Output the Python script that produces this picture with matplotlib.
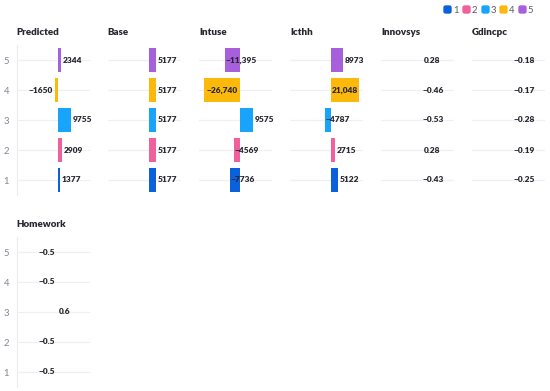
import matplotlib
matplotlib.use("Agg")
import matplotlib.pyplot as plt
from matplotlib.lines import Line2D
from matplotlib.patches import FancyBboxPatch

# ---- data ------------------------------------------------------------------
categories = [1, 2, 3, 4, 5]
predicted = [1377, 2909, 9755, -1650, 2344]
base = [5177, 5177, 5177, 5177, 5177]
intuse = [-7736, -4569, 9575, -26740, -11395]
icthh = [5122, 2715, -4787, 21048, 8973]
innovsys = [-0.43, 0.28, -0.53, -0.46, 0.28]
gdincpc = [-0.25, -0.19, -0.28, -0.17, -0.18]
homework = [-0.5, -0.5, 0.6, -0.5, -0.5]

panel_names = ["Predicted", "Base", "Intuse", "Icthh", "Innovsys", "Gdincpc", "Homework"]
panel_values = [predicted, base, intuse, icthh, innovsys, gdincpc, homework]

colors = ["#0b60dc", "#f0609a", "#17a4fa", "#fdb80c", "#a75fdb"]

# ---- layout -----------------------------------------------------------------
W, H = 550, 391
XMIN, XMAX = -30700, 24200
COL_LEFT, COL_STEP, COL_W = 16.7, 91.1, 73.3
ROW_TOP, ROW_STEP, ROW_H = 45, 192, 150
NCOLS = 6

TEXT_DARK = "#262730"
TICK_GREY = "#808495"
GRID = "#f0f0f2"

plt.rcParams["font.family"] = ["Lato", "DejaVu Sans"]


def fmt(v):
    if isinstance(v, float):
        s = str(v)
    elif abs(v) >= 10000:
        s = f"{v:,}"
    else:
        s = str(v)
    return s.replace("-", "\u2212")


fig = plt.figure(figsize=(W / 100, H / 100), dpi=100)
renderer = fig.canvas.get_renderer()

for idx, (name, values) in enumerate(zip(panel_names, panel_values)):
    row, col = divmod(idx, NCOLS)
    left = COL_LEFT + COL_STEP * col
    top = ROW_TOP + ROW_STEP * row
    ax = fig.add_axes([left / W, 1 - (top + ROW_H) / H, COL_W / W, ROW_H / H])

    ax.set_xlim(XMIN, XMAX)
    ax.set_ylim(0.5, 5.5)
    for cat in categories:
        ax.axhline(cat, color=GRID, lw=0.9, zorder=0)
    ax.barh(categories, values, height=0.83, color=colors, zorder=2)

    for spine in ax.spines.values():
        spine.set_visible(False)
    ax.set_xticks([])
    if col == 0:
        ax.spines["left"].set_visible(True)
        ax.spines["left"].set_color("#ececee")
        ax.spines["left"].set_linewidth(0.8)
        ax.set_yticks(categories)
        ax.set_yticklabels([str(c) for c in categories], fontsize=6.8, color=TICK_GREY)
        ax.tick_params(axis="y", length=0, pad=5.5)
    else:
        ax.set_yticks([])

    ax.set_title(name, loc="left", pad=7.0, fontsize=7.0, fontweight="heavy",
                 color=TEXT_DARK)

    px_per_unit = COL_W / (XMAX - XMIN)
    for cat, v in zip(categories, values):
        label = fmt(v)
        t = ax.annotate(label, xy=(v, cat), xytext=(1.2, 0), textcoords="offset points",
                        ha="left", va="center", fontsize=6.0, fontweight="heavy",
                        color=TEXT_DARK, zorder=3)
        text_w = t.get_window_extent(renderer).width
        bar_w = abs(v) * px_per_unit
        if text_w < bar_w + 2:
            # fits inside the bar: centre it
            t.xy = (v / 2, cat)
            t.set_position((0, 0))
            t.set_ha("center")
        elif v < 0 and col == 0:
            t.set_position((-1.8, 0))
            t.set_ha("right")
        elif v < 0:
            t.set_position((0.4, 0))

# legend with rounded squares
box = FancyBboxPatch((-0.5, -0.5), 1, 1, boxstyle="round,pad=0,rounding_size=0.22")
marker_path = box.get_path()
handles = [Line2D([], [], ls="none", marker=marker_path, markersize=5.0,
                  markerfacecolor=c, markeredgecolor=c) for c in colors]
fig.legend(handles, [str(c) for c in categories], ncol=5, frameon=False,
           loc="upper right", bbox_to_anchor=(539 / W, 1.0),
           fontsize=6.8, labelcolor="#5a5a66", handlelength=0.6,
           handletextpad=0.3, columnspacing=0.5, borderaxespad=0.2)

fig.savefig("out.png", dpi=100)
